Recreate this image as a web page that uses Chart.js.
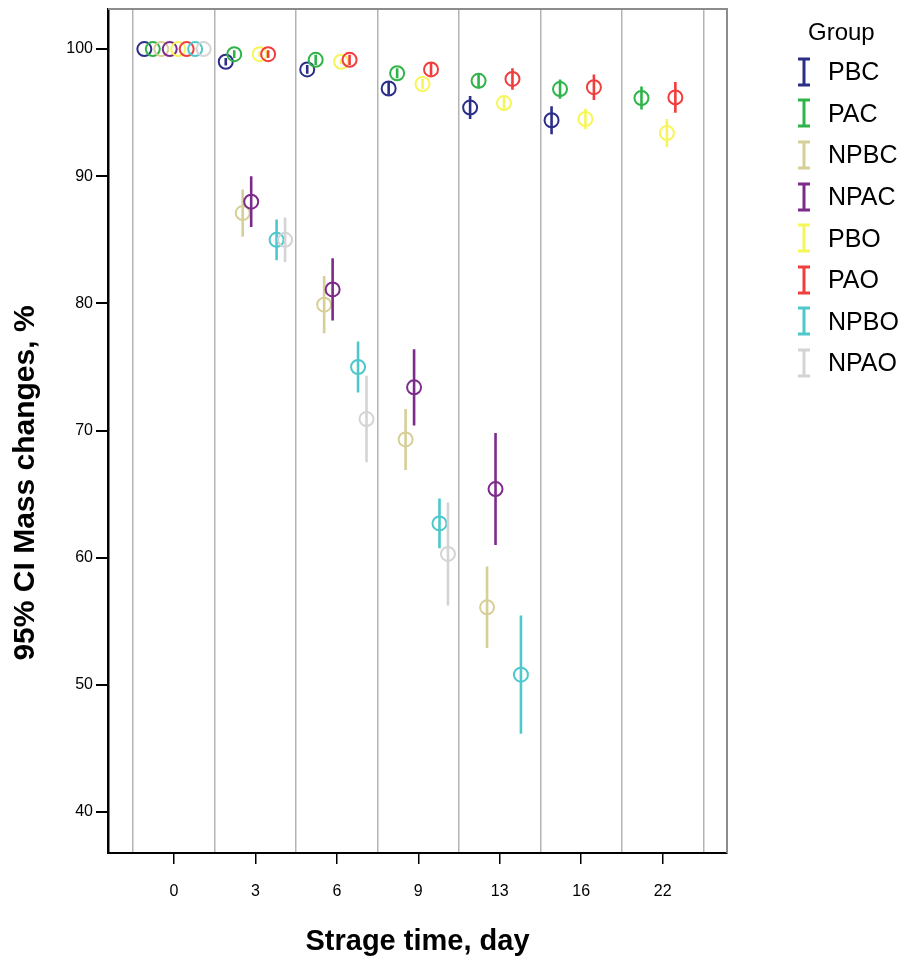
<!DOCTYPE html>
<html>
<head>
<meta charset="utf-8">
<script src="https://cdn.jsdelivr.net/npm/chart.js@4.4.0/dist/chart.umd.min.js"></script>
<style>
  body { margin: 0; background: #fff; }
  #wrap { position: relative; width: 903px; height: 960px; }
  #legend { position: absolute; left: 796px; top: 12px; font-family: 'Liberation Sans', Arial, sans-serif; color: #000; }
  .legend-title { font-size: 24px; height: 39px; line-height: 39px; margin-left: 12px; }
  .legend-row { display: flex; align-items: center; height: 41.6px; font-size: 25px; }
  .legend-row svg { margin-right: 16px; }
</style>
</head>
<body>
<div id="wrap">
  <canvas id="chart" width="903" height="960"></canvas>
  <div id="legend"></div>
</div>
<script>
const days = ['0', '3', '6', '9', '13', '16', '22'];
const groups = ['PBC', 'PAC', 'NPBC', 'NPAC', 'PBO', 'PAO', 'NPBO', 'NPAO'];
const groupColors = ['#2c2f87', '#2fb449', '#d6cf98', '#7d2b8b', '#f6f65a', '#f23d3d', '#4ec8cc', '#d4d4d4'];
const yTicks = [40, 50, 60, 70, 80, 90, 100];

// mean mass change (%) per group, one value per day (null = no data)
const means = [
  [100, 99.0, 98.4, 96.9, 95.4, 94.4, null],
  [100, 99.6, 99.15, 98.1, 97.5, 96.85, 96.15],
  [100, 87.1, 79.9, 69.3, 56.1, null, null],
  [100, 88.0, 81.1, 73.4, 65.4, null, null],
  [100, 99.6, 99.0, 97.25, 95.75, 94.5, 93.4],
  [100, 99.6, 99.15, 98.4, 97.65, 97.0, 96.2],
  [100, 85.0, 75.0, 62.7, 50.8, null, null],
  [100, 85.0, 70.9, 60.3, null, null, null]
];

// half width of the 95% CI
const ciHalf = [
  [0, 0.3, 0.35, 0.5, 0.9, 1.1, null],
  [0, 0.3, 0.4, 0.4, 0.6, 0.75, 0.9],
  [0, 1.85, 2.25, 2.4, 3.2, null, null],
  [0, 2.0, 2.45, 3.0, 4.4, null, null],
  [0, 0.2, 0.2, 0.4, 0.6, 0.8, 1.1],
  [0, 0.3, 0.4, 0.5, 0.85, 1.0, 1.2],
  [0, 1.6, 2.0, 1.95, 4.65, null, null],
  [0, 1.75, 3.4, 4.05, null, null, null]
];

const groupStep = 0.104;

const datasets = [];
groups.forEach(function(name, g) {
  const offset = (g - 3.5) * groupStep;
  const points = [];
  const bars = [];
  means[g].forEach(function(m, i) {
    if (m === null) return;
    const x = i + offset;
    points.push({ x: x, y: m });
    bars.push({ x: x, y: m - ciHalf[g][i] });
    bars.push({ x: x, y: m + ciHalf[g][i] });
    bars.push({ x: x, y: null });
  });
  datasets.push({
    label: name + ' CI',
    data: bars,
    showLine: true,
    spanGaps: false,
    borderColor: groupColors[g],
    borderWidth: 2.6,
    pointRadius: 0,
    order: 100 - g * 2
  });
  datasets.push({
    label: name,
    data: points,
    pointStyle: 'circle',
    pointRadius: 7,
    pointBorderWidth: 2,
    borderColor: groupColors[g],
    pointBorderColor: groupColors[g],
    pointBackgroundColor: 'rgba(0,0,0,0)',
    backgroundColor: 'rgba(0,0,0,0)',
    order: 99 - g * 2
  });
});

// top/right frame and rotated y title
const framePlugin = {
  id: 'frame',
  afterDraw: function(chart) {
    const ctx = chart.ctx;
    const a = chart.chartArea;
    ctx.save();
    ctx.strokeStyle = '#8c8c8c';
    ctx.lineWidth = 2;
    ctx.beginPath();
    ctx.moveTo(a.left, a.top);
    ctx.lineTo(a.right, a.top);
    ctx.lineTo(a.right, a.bottom);
    ctx.stroke();
    ctx.fillStyle = '#000';
    ctx.font = 'bold 30px "Liberation Sans", Arial, sans-serif';
    ctx.textAlign = 'center';
    ctx.textBaseline = 'middle';
    ctx.translate(26, 483);
    ctx.rotate(-Math.PI / 2);
    ctx.fillText('95% CI Mass changes, %', 0, 0);
    ctx.restore();
  }
};

const ctx = document.getElementById('chart').getContext('2d');
new Chart(ctx, {
  type: 'scatter',
  data: { datasets: datasets },
  plugins: [framePlugin],
  options: {
    responsive: false,
    animation: false,
    events: [],
    layout: { padding: { top: 3, right: 176, bottom: 0, left: 0 } },
    plugins: {
      legend: { display: false },
      tooltip: { enabled: false }
    },
    scales: {
      x: {
        type: 'linear',
        min: -0.81,
        max: 6.79,
        afterFit: function(scale) {
          scale.height = 107;
          scale.paddingLeft = 0;
          scale.paddingRight = 0;
        },
        afterBuildTicks: function(scale) {
          const t = [];
          for (let v = -0.5; v <= 6.5; v += 0.5) t.push({ value: v });
          scale.ticks = t;
        },
        ticks: {
          autoSkip: false,
          maxRotation: 0,
          padding: 18,
          color: '#000',
          font: { family: '"Liberation Sans", Arial, sans-serif', size: 16 },
          callback: function(value) {
            return Number.isInteger(value) ? days[value] : '';
          }
        },
        grid: {
          drawOnChartArea: true,
          tickLength: 11,
          lineWidth: 1.5,
          color: function(c) {
            return Number.isInteger(c.tick.value) ? 'rgba(0,0,0,0)' : '#b4b4b4';
          },
          tickColor: function(c) {
            return Number.isInteger(c.tick.value) ? '#000' : 'rgba(0,0,0,0)';
          }
        },
        border: { display: true, color: '#000', width: 2 },
        title: {
          display: true,
          text: 'Strage time, day',
          color: '#000',
          font: { family: '"Liberation Sans", Arial, sans-serif', size: 29, weight: 'bold' },
          padding: { top: 0, bottom: 1 }
        }
      },
      y: {
        min: 36.78,
        max: 103.15,
        afterFit: function(scale) {
          scale.width = 108;
          scale.paddingTop = 0;
          scale.paddingBottom = 0;
        },
        afterBuildTicks: function(scale) {
          scale.ticks = yTicks.map(function(v) { return { value: v }; });
        },
        ticks: {
          padding: 3,
          color: '#000',
          font: { family: '"Liberation Sans", Arial, sans-serif', size: 16 }
        },
        grid: {
          drawOnChartArea: false,
          tickLength: 12,
          lineWidth: 2,
          tickColor: '#000'
        },
        border: { display: true, color: '#000', width: 2.5 }
      }
    }
  }
});

// legend
const legend = document.getElementById('legend');
legend.innerHTML = '<div class="legend-title">Group</div>';
groups.forEach(function(name, g) {
  const row = document.createElement('div');
  row.className = 'legend-row';
  row.innerHTML = '<svg width="16" height="30"><path d="M2 2H14M8 2V28M2 28H14" fill="none" stroke="' +
    groupColors[g] + '" stroke-width="3"/></svg><span>' + name + '</span>';
  legend.appendChild(row);
});
</script>
</body>
</html>
